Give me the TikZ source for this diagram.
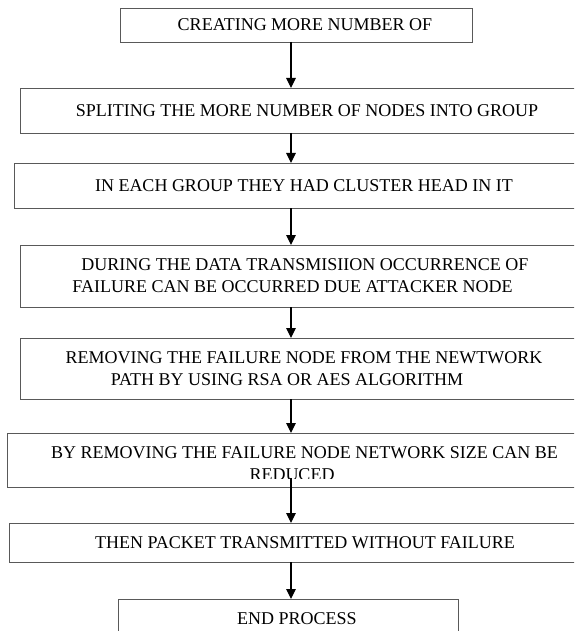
\documentclass[tikz,border=0pt]{standalone}
\usepackage{fontspec}
\setmainfont{Liberation Serif}
\usetikzlibrary{arrows.meta}
\usetikzlibrary{calc}

\begin{document}
\begin{tikzpicture}[x=1pt, y=-1pt,
    %Option for the arrows
    >={Triangle[width=9.5pt,length=10pt]}, %
    inner sep=0pt, outer sep=0pt,%
    box/.style={draw=black!65, line width=0.9pt, fill=white, align=center,
        font=\fontsize{18}{22}\selectfont},
    flow/.style={->, line width=1.2pt},
]
    \clip (0,0) rectangle (574,631);
    % common line of the arrows
    \coordinate (ax) at (291,0);

    % Boxes
    \node[box, minimum width=352, minimum height=34] (b1) at (296,25)
        {\hspace*{18pt}CREATING MORE NUMBER OF};
    \node[box, minimum width=574, minimum height=45] (b2) at (307,110.5)
        {SPLITING THE MORE NUMBER OF NODES INTO GROUP};
    \node[box, minimum width=580, minimum height=45] (b3) at (304,185.5)
        {IN EACH GROUP THEY HAD CLUSTER HEAD IN IT};
    \node[box, minimum width=570, minimum height=62] (b4) at (305,276)
        {DURING THE DATA TRANSMISIION OCCURRENCE OF\\
         FAILURE CAN BE OCCURRED DUE ATTACKER NODE\hspace*{25pt}};
    \node[box, minimum width=568, minimum height=61] (b5) at (304,368.5)
        {REMOVING THE FAILURE NODE FROM THE NEWTWORK\\
         PATH BY USING RSA OR AES ALGORITHM\hspace*{34pt}};
    \node[box, minimum width=595, minimum height=54, text height=40pt, text depth=0pt]
        (b6) at (304.5,460)
        {BY REMOVING THE FAILURE NODE NETWORK SIZE CAN BE\\
         REDUCED\hspace*{25pt}};
    % second line is cut at the bottom
    \fill[white] ($(b6.south west)+(2,-8.5)$) rectangle ($(b6.south east)+(-2,-1)$);
    \node[box, minimum width=592, minimum height=39] (b7) at (305,542.5)
        {THEN PACKET TRANSMITTED WITHOUT FAILURE};
    \node[box, minimum width=340, minimum height=39] (b8) at (288,618.5)
        {\hspace*{18pt}END PROCESS};

    % Arrows
    \foreach \a/\b in {b1/b2, b2/b3, b3/b4, b4/b5, b5/b6, b7/b8}
        \draw[flow] (\a.south -| ax) -- (\b.north -| ax);
    \draw[flow] ($(b6.south -| ax)+(0,-9)$) -- (b7.north -| ax);
\end{tikzpicture}
\end{document}
